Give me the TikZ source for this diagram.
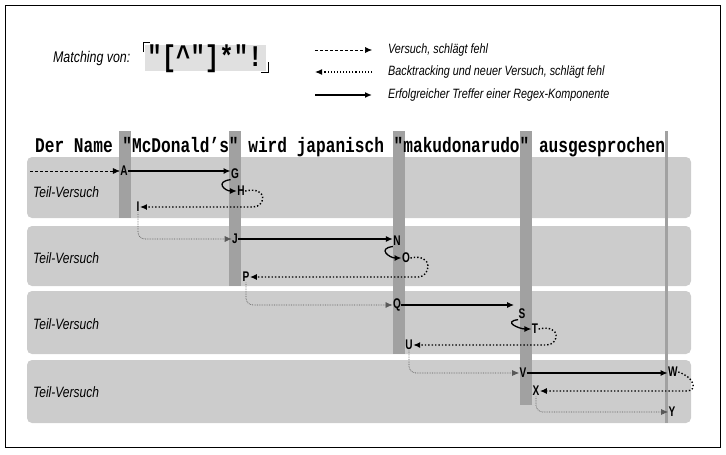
\documentclass[tikz,border=0pt]{standalone}
\usepackage{fontspec}
\setmainfont{Liberation Sans}
\newfontfamily\monob{Liberation Mono}[BoldFont={* Bold}]
\usetikzlibrary{arrows.meta,calc}
\begin{document}
\begin{tikzpicture}[x=1pt,y=-1pt,
  lab/.style={font=\bfseries\fontsize{14}{14}\selectfont,xscale=0.72,inner sep=0.5pt},
  ttl/.style={font=\itshape\fontsize{13.5}{14}\selectfont,xscale=0.8,anchor=west,inner sep=0},
  tip/.style={-{Latex[length=7pt,width=6pt]}},
  tryl/.style={tip,densely dashed,line width=0.5pt},
  back/.style={tip,dotted,line width=1.4pt},
  hit/.style={tip,line width=1.3pt},
  over/.style={tip,densely dotted,line width=0.7pt,black!65,rounded corners=7pt},
  bar/.style={fill=black!37,draw=none},
  rowbox/.style={fill=black!20,draw=none,rounded corners=5pt}]
\useasboundingbox (0,0) rectangle (726,455);
\draw[line width=0.6pt] (5,5) rectangle (720,447);
% rows
\fill[rowbox] (27,157) rectangle (691,218);
\fill[rowbox] (27,226) rectangle (691,286);
\fill[rowbox] (27,291) rectangle (691,354);
\fill[rowbox] (27,360) rectangle (691,423);
% bars
\fill[bar] (118.5,131) rectangle (130.5,218);
\fill[bar] (229,131) rectangle (241,286);
\fill[bar] (393,131) rectangle (405,354);
\fill[bar] (520,131) rectangle (532,405);
\fill[bar] (665,131) rectangle (668,423);
% title
\node[anchor=west,inner sep=0,font=\monob\bfseries\fontsize{19}{20}\selectfont,xscale=0.85,yscale=1.1] (title) at (35,147) {Der Name "McDonald’s" wird japanisch "makudonarudo" ausgesprochen};
% legend
\node[ttl,font=\itshape\fontsize{15.5}{16}\selectfont] (mv) at (53,58) {Matching von:};
\fill[black!12] (145,45) rectangle (266,71);
\node[inner sep=0,font=\monob\bfseries\fontsize{30}{30}\selectfont,xscale=0.8] (rx) at (205,59) {"[\^{}"]*"!};
\draw[line width=0.8pt] (143,52) |- (150,42);
\draw[line width=0.8pt] (261,72) -| (268,62);
\coordinate (l1a) at (315,50); \coordinate (l1b) at (372,50);
\coordinate (l2a) at (315,72); \coordinate (l2b) at (372,72);
\coordinate (l3a) at (315,95); \coordinate (l3b) at (372,95);
\draw[tryl] (l1a) -- (l1b);
\draw[back,line width=1.1pt] (l2b) -- (l2a);
\draw[hit,line width=2pt] (l3a) -- (l3b);
\node[ttl] (t1) at (388,50) {Versuch, schlägt fehl};
\node[ttl] (t2) at (388,72) {Backtracking und neuer Versuch, schlägt fehl};
\node[ttl] (t3) at (388,95) {Erfolgreicher Treffer einer Regex-Komponente};
% teil-versuch labels
\foreach \y/\n in {192/a,258/b,324/c,392/d}
  \node[ttl,font=\itshape\fontsize{15}{15}\selectfont] (tv\n) at (33,\y) {Teil-Versuch};
% letters
\node[lab] (A) at (124,171) {A};
\node[lab] (G) at (235,174) {G};
\node[lab] (H) at (241,191) {H};
\node[lab] (I) at (138,207) {I};
\node[lab] (J) at (235,239) {J};
\node[lab] (N) at (397,241) {N};
\node[lab] (O) at (406,258) {O};
\node[lab] (P) at (246,277) {P};
\node[lab] (Q) at (397,305) {Q};
\node[lab] (S) at (522,314) {S};
\node[lab] (T) at (535,329) {T};
\node[lab] (U) at (409,345) {U};
\node[lab] (V) at (523,373) {V};
\node[lab] (W) at (673,372) {W};
\node[lab] (X) at (536,391) {X};
\node[lab] (Y) at (672,412) {Y};
\coordinate (start) at (30,171);
% row 1
\draw[tryl] (start) -- (A.west);
\draw[hit] (A.east) -- (A.east -| G.west);
\draw[hit] (G.south west) .. controls +(-16,2) and +(-12,0) .. (H.west);
\draw[back] (H.east) .. controls +(24,-5) and +(12,0) .. ($(I.east -| H.east)+(8,0)$) -- (I.east);
\draw[over] (I.south) |- (J.west);
% row 2
\draw[hit] (J.east) -- (J.east -| N.west);
\draw[hit] (N.south west) .. controls +(-16,2) and +(-12,0) .. (O.west);
\draw[back] (O.east) .. controls +(24,-5) and +(12,0) .. ($(P.east -| O.east)+(8,0)$) -- (P.east);
\draw[over] (P.south) |- (Q.west);
% row 3
\draw[hit] (Q.east) -- ($(Q.east -| S.west)+(-4,0)$);
\draw[hit] (S.south west) .. controls +(-16,2) and +(-12,0) .. (T.west);
\draw[back] (T.east) .. controls +(24,-5) and +(12,0) .. ($(U.east -| T.east)+(8,0)$) -- (U.east);
\draw[over] (U.south) |- (V.west);
% row 4
\draw[hit] (V.east) -- (V.east -| W.west);
\draw[back] (W.east) .. controls +(16,5) and +(12,0) .. ($(X.east -| W.east)+(8,0)$) -- (X.east);
\draw[over] (X.south) |- (Y.west);
\end{tikzpicture}
\end{document}
